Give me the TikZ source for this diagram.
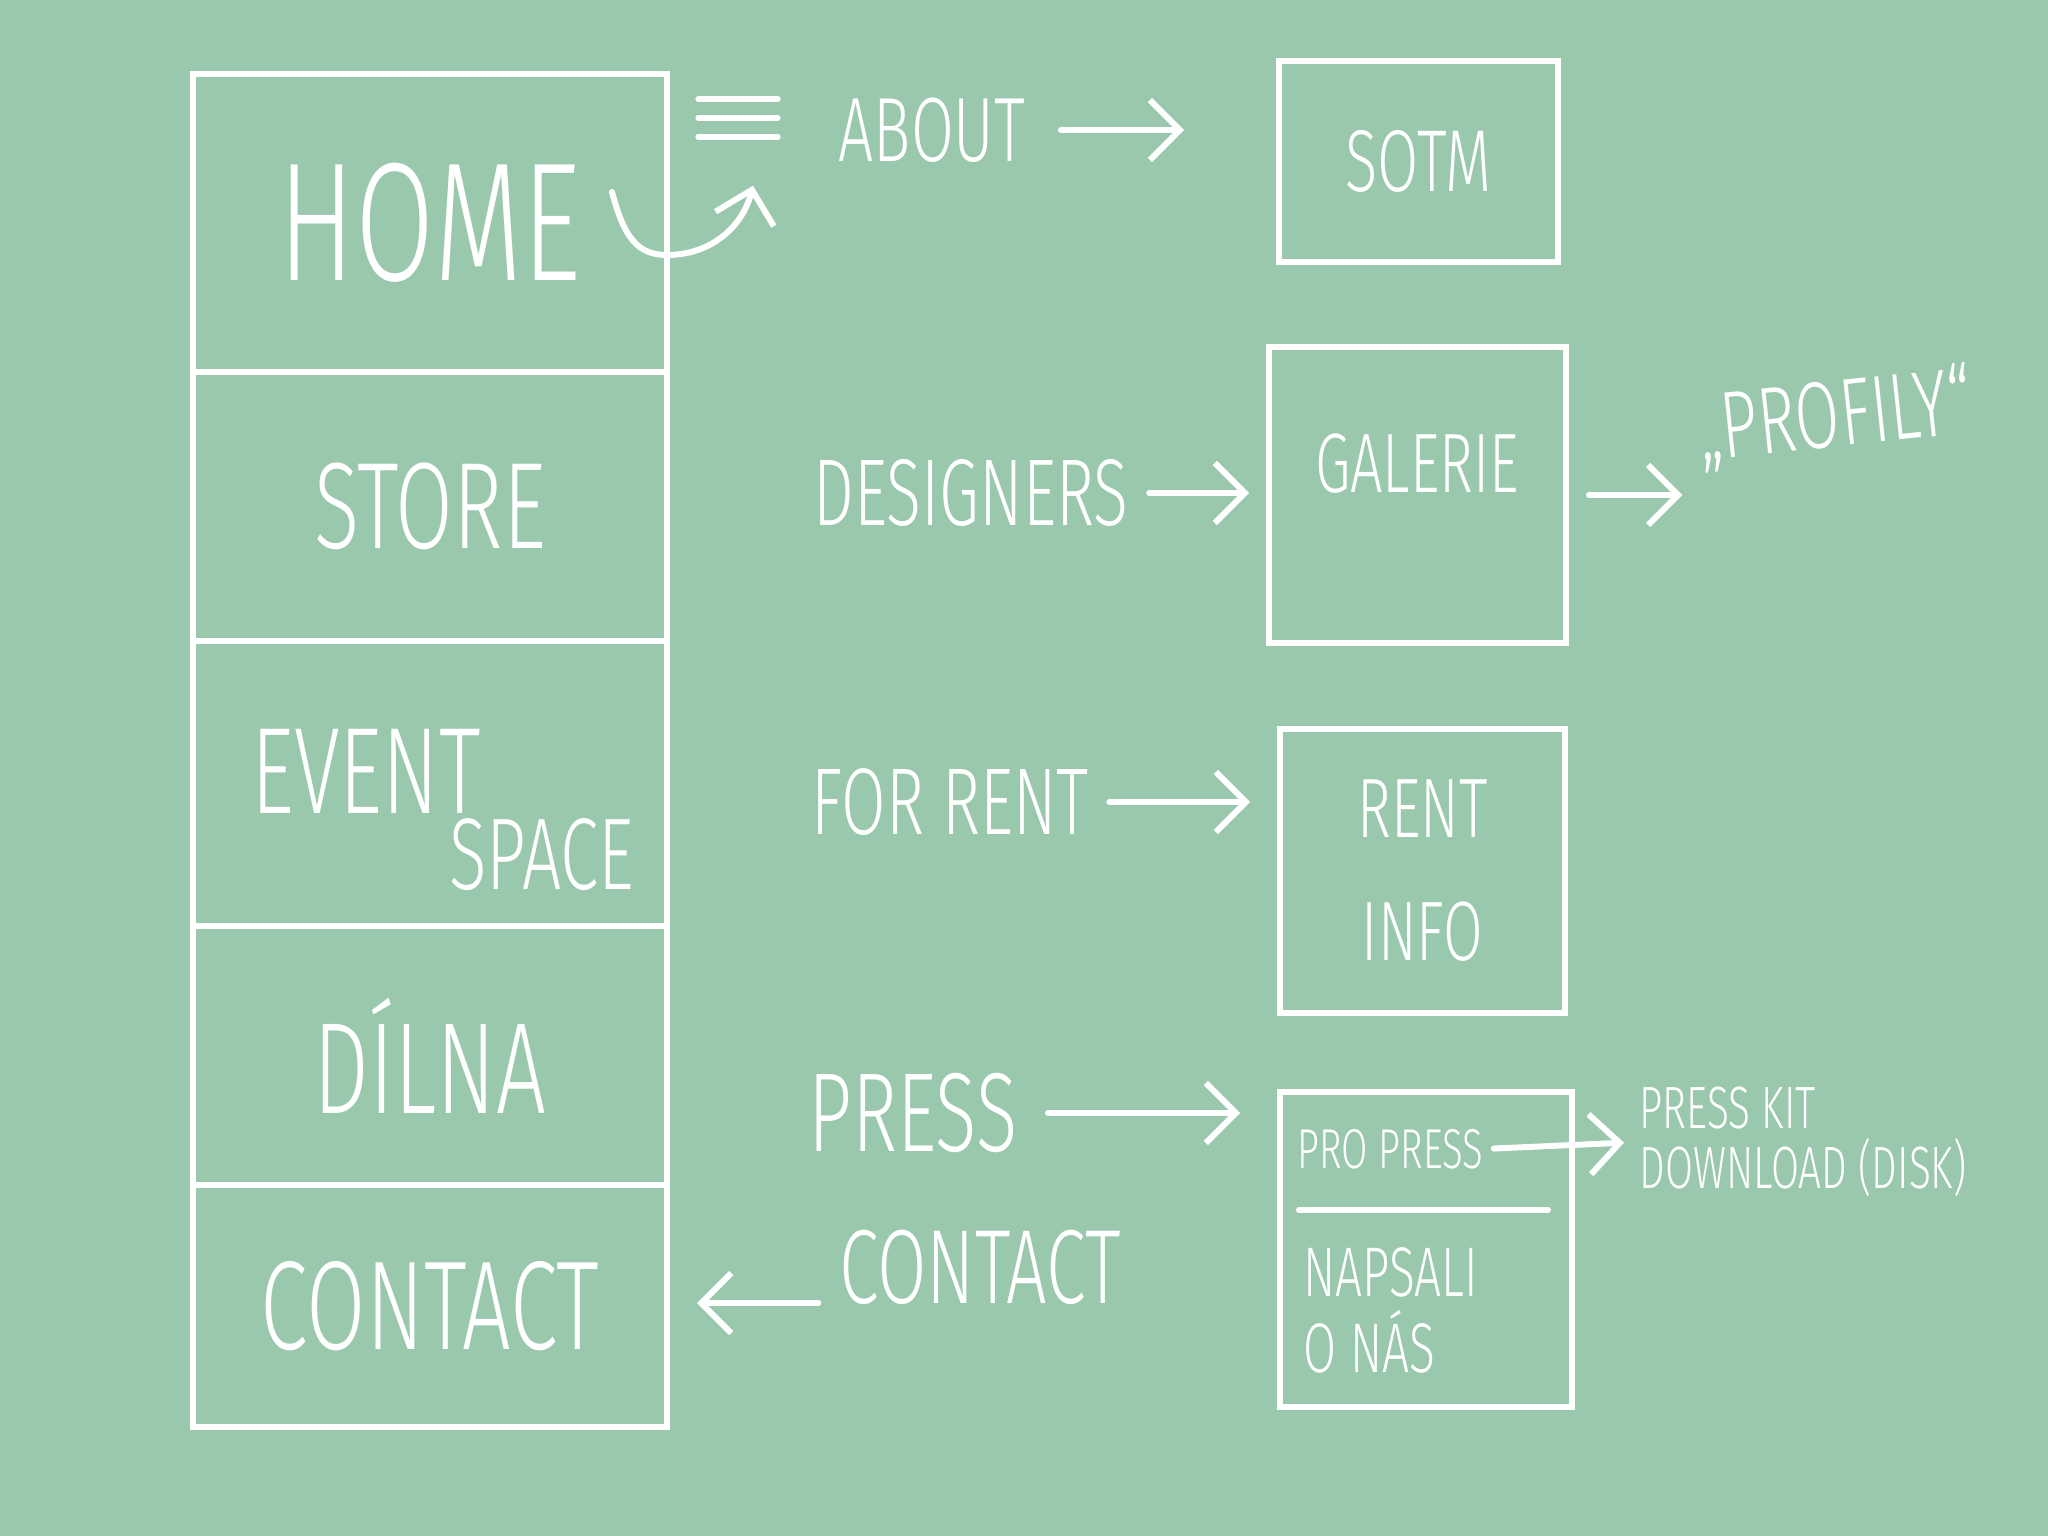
\documentclass[tikz,border=0pt]{standalone}
\usepackage{fontspec}
\newfontfamily\hand[FakeStretch=0.68]{Fira Sans Light}
\usetikzlibrary{arrows.meta,positioning}
\definecolor{bg}{RGB}{154,200,173}
\newcommand\tsz[1]{\fontsize{#1}{#1}\selectfont}

\begin{document}
\begin{tikzpicture}[font=\hand,
  txt/.style={text=white,inner sep=0pt},
  cell/.style={draw=white,line width=1.8pt,minimum width=4.74cm,outer sep=0pt,text=white,inner sep=0pt},
  bx/.style={draw=white,line width=1.8pt,outer sep=0pt,text=white,inner sep=0pt},
  ln/.style={white,line width=1.7pt,line cap=round},
  arr/.style={ln,-{Straight Barb[length=3mm,width=6mm]}}]
\fill[bg] (0,0) rectangle (20.48,-15.36);

\node[cell,minimum height=2.98cm,anchor=north] (home) at (4.30,-0.74) {\tsz{48}HOME};
\node[cell,minimum height=2.69cm,below=0pt of home] (store) {\tsz{35}STORE};
\node[cell,minimum height=2.85cm,below=0pt of store] (event) {};
\node[cell,minimum height=2.59cm,below=0pt of event] (dilna) {\tsz{37}DÍLNA};
\node[cell,minimum height=2.42cm,below=0pt of dilna] (contact) {\tsz{36}CONTACT};
\node[txt] (ev) at (3.66,-7.71) {\tsz{35}EVENT};
\node[txt] (sp) at (5.42,-8.55) {\tsz{29}SPACE};

\node[minimum width=0.78cm,minimum height=0.36cm,inner sep=0pt] (menu) at (7.38,-1.18) {};
\foreach \a/\b in {north west/north east,west/east,south west/south east}
  \draw[ln] (menu.\a) -- (menu.\b);
\draw[arr] ([shift={(-0.55,0.31)}]home.east) .. controls +(0.12,-0.45) and +(-0.3,0) .. ([yshift=-3.2mm]home.east)
  .. controls +(0.45,0) and +(-0.1,-0.4) .. ([shift={(0.15,-0.49)}]menu.south);

\node[txt] (about) at (9.32,-1.30) {\tsz{26}ABOUT};
\node[bx,minimum width=2.79cm,minimum height=2.01cm] (sotm) at (14.185,-1.615) {\tsz{25}SOTM};
\draw[arr,shorten <=3.5mm,shorten >=9.5mm] (about.east) -- (about.east -| sotm.west);

\node[txt] (designers) at (9.71,-4.93) {\tsz{27}DESIGNERS};
\node[bx,minimum width=2.97cm,minimum height=2.96cm] (gbox) at (14.175,-4.95) {};
\node[txt] (galerie) at (14.17,-4.64) {\tsz{24}GALERIE};
\draw[arr,shorten <=2mm,shorten >=2mm] (designers.east) -- (designers.east -| gbox.west);
\node[txt,rotate=6] (profily) at (18.35,-4.18) {\tsz{27}„PROFILY“};
\draw[arr,shorten <=2.3mm,shorten >=1.5mm] (gbox.east) -- (gbox.east -| profily.west);

\node[txt] (forrent) at (9.50,-8.02) {\tsz{27}FOR RENT};
\node[bx,minimum width=2.85cm,minimum height=2.84cm,align=center,font={\hand\fontsize{24}{35}\selectfont}] (rbox) at (14.225,-8.71) {RENT\\INFO};
\draw[arr,shorten <=2mm,shorten >=3mm] (forrent.east) -- (forrent.east -| rbox.west);

\node[txt] (press) at (9.13,-11.13) {\tsz{32}PRESS};
\node[bx,minimum width=2.92cm,minimum height=3.15cm] (pbox) at (14.26,-12.495) {};
\draw[arr,shorten <=3mm,shorten >=4mm] (press.east) -- (press.east -| pbox.west);
\node[txt,anchor=west] (propress) at (12.97,-11.49) {\tsz{16}PRO PRESS};
\draw[ln] ([shift={(0.19,-1.18)}]pbox.north west) -- ([shift={(-0.24,-1.18)}]pbox.north east);
\node[txt,anchor=north west,align=left,font={\hand\fontsize{20}{21.5}\selectfont}] (napsali) at (13.03,-12.47) {NAPSALI\\O NÁS};
\node[txt,anchor=west,align=left,font={\hand\fontsize{17}{17}\selectfont}] (kit) at (16.39,-11.42) {PRESS KIT\\DOWNLOAD (DISK)};
\draw[arr,shorten <=1mm,shorten >=1.5mm] (propress.east) -- (kit.west);

\node[txt] (clab) at (9.80,-12.67) {\tsz{30}CONTACT};
\draw[arr,shorten <=2mm,shorten >=3mm] (clab.base west) -- (clab.base west -| contact.east);
\end{tikzpicture}
\end{document}
